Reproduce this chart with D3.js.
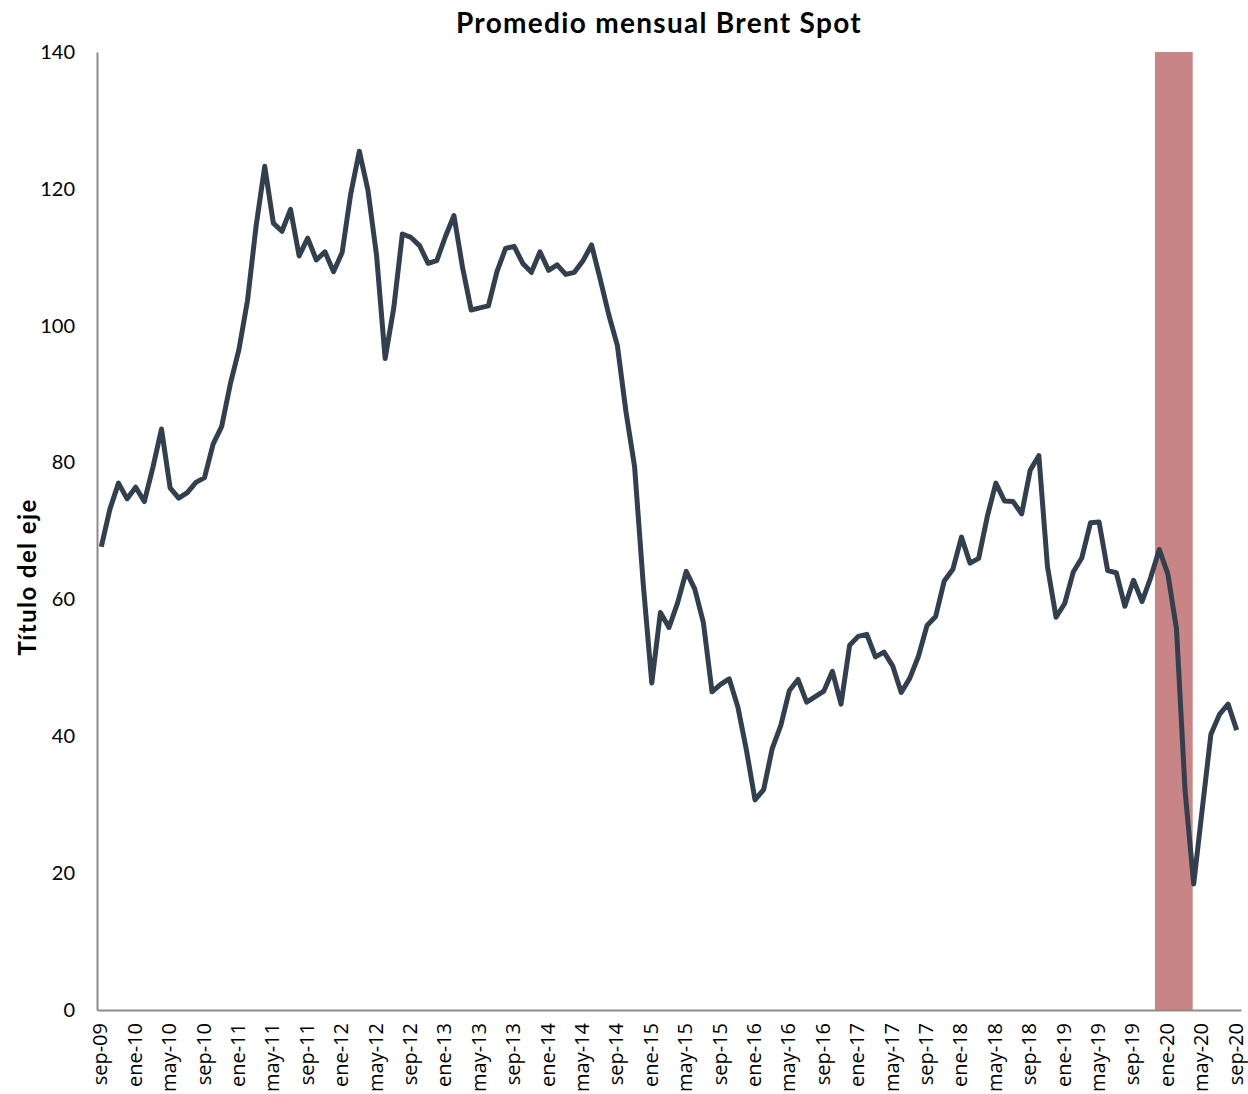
<!DOCTYPE html>
<html>
<head>
<meta charset="utf-8">
<script src="https://cdn.jsdelivr.net/npm/d3@7"></script>
<style>
  body { margin: 0; background: #fff; }
  svg { display: block; }
  .ytick text { font-family: Lato, "Open Sans", sans-serif; font-size: 20px; fill: #000; }
  .xtick text { font-family: "Open Sans", Lato, sans-serif; font-size: 20px; fill: #000; }
</style>
</head>
<body>
<svg id="chart" width="1248" height="1094"></svg>
<script>
let width = 1248
let height = 1094
let pad_l = 97
let pad_r = 7
let pad_t = 52
let pad_b = 84

// meses (sep-09 .. sep-20)
let month_names = ['ene', 'feb', 'mar', 'abr', 'may', 'jun', 'jul', 'ago', 'sep', 'oct', 'nov', 'dic']
let months = []
for (let y = 2009; y <= 2020; y++)
    for (let m = 0; m < 12; m++) {
        if (y === 2009 && m < 8) continue
        if (y === 2020 && m > 8) continue
        months.push(`${month_names[m]}-${String(y).slice(2)}`)
    }

// Brent spot, promedio mensual (USD/bbl)
let brent = [
    67.7, 73.2, 77.0, 74.7,
    76.4, 74.3, 79.3, 84.9, 76.3, 74.8, 75.6, 77.1, 77.8, 82.7, 85.3, 91.5,
    96.5, 103.7, 114.6, 123.3, 115.0, 113.8, 117.0, 110.2, 112.8, 109.6, 110.8, 107.9,
    110.7, 119.3, 125.5, 119.8, 110.3, 95.2, 102.6, 113.4, 112.9, 111.7, 109.1, 109.5,
    113.0, 116.1, 108.5, 102.3, 102.6, 102.9, 107.9, 111.3, 111.6, 109.1, 107.8, 110.8,
    108.1, 108.9, 107.5, 107.8, 109.5, 111.8, 106.8, 101.6, 97.1, 87.4, 79.4, 62.3,
    47.8, 58.1, 55.9, 59.5, 64.1, 61.5, 56.6, 46.5, 47.6, 48.4, 44.3, 38.0,
    30.7, 32.2, 38.2, 41.6, 46.7, 48.3, 45.0, 45.8, 46.6, 49.5, 44.7, 53.3,
    54.6, 54.9, 51.6, 52.3, 50.3, 46.4, 48.5, 51.7, 56.2, 57.5, 62.7, 64.4,
    69.1, 65.3, 66.0, 72.1, 77.0, 74.4, 74.3, 72.5, 78.9, 81.0, 64.8, 57.4,
    59.4, 64.0, 66.1, 71.2, 71.3, 64.2, 63.9, 59.0, 62.8, 59.7, 63.2, 67.3,
    63.7, 55.7, 32.0, 18.4, 29.4, 40.3, 43.2, 44.7, 40.9
]

let y_ticks = [0, 20, 40, 60, 80, 100, 120, 140]
let x_labels = months.filter((d, i) => i % 4 === 0)

// periodo sombreado (covid)
let band_from = 'dic-19'
let band_to = 'abr-20'

let title = 'Promedio mensual Brent Spot'
let y_title = 'Título del eje'

let svg = d3.select('#chart')

let x = d3.scaleBand()
    .domain(months)
    .range([pad_l, width - pad_r])
    .padding(0)

let y = d3.scaleLinear()
    .domain([0, 140])
    .range([height - pad_b, pad_t])

let xc = d => x(d) + x.bandwidth() / 2

// banda
svg.append('rect')
    .attr('x', x(band_from))
    .attr('y', y(140))
    .attr('width', xc(band_to) - x(band_from) - 1)
    .attr('height', y(0) - y(140))
    .attr('fill', '#c98585')

// eje y
let yaxis = svg.append('g')
    .attr('class', 'ytick')
    .attr('transform', `translate(${pad_l}, 0)`)
    .call(d3.axisLeft(y).tickValues(y_ticks).tickSize(0).tickPadding(22))
yaxis.select('.domain').attr('stroke', '#8c8c8c').attr('stroke-width', 2)

// eje x
let xaxis = svg.append('g')
    .attr('class', 'xtick')
    .attr('transform', `translate(0, ${y(0)})`)
    .call(d3.axisBottom(x).tickValues(x_labels).tickSize(0))
xaxis.select('.domain').attr('stroke', '#8c8c8c').attr('stroke-width', 2)
xaxis.selectAll('text')
    .attr('transform', 'rotate(-90)')
    .attr('text-anchor', 'end')
    .attr('dy', '0.3em')
    .attr('dx', 0)
    .attr('x', -13)
    .attr('y', 0)

// linea
let line = d3.line()
    .x((d, i) => xc(months[i]))
    .y(d => y(d))

svg.append('path')
    .datum(brent)
    .attr('d', line)
    .attr('fill', 'none')
    .attr('stroke', '#323f4f')
    .attr('stroke-width', 5)
    .attr('stroke-linejoin', 'round')

// titulos
svg.append('text')
    .attr('x', 659)
    .attr('y', 33)
    .attr('text-anchor', 'middle')
    .style('font-family', 'Lato, "Open Sans", sans-serif')
    .style('font-weight', 'bold')
    .style('font-size', '28px')
    .style('letter-spacing', '1.3px')
    .text(title)

svg.append('text')
    .attr('transform', `translate(36, 577) rotate(-90)`)
    .attr('text-anchor', 'middle')
    .style('font-family', 'Lato, "Open Sans", sans-serif')
    .style('font-weight', 'bold')
    .style('font-size', '24px')
    .style('letter-spacing', '1.4px')
    .text(y_title)
</script>
</body>
</html>
